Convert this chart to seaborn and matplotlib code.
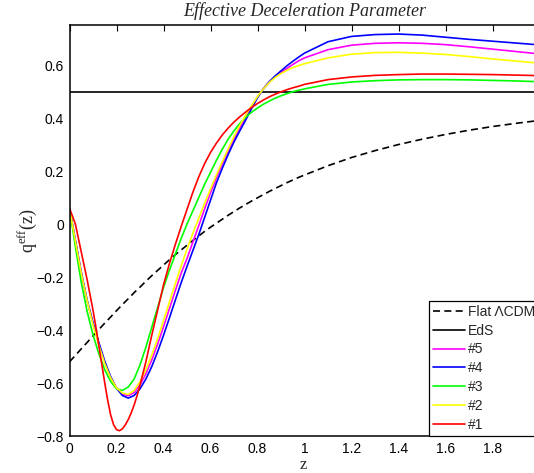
import numpy as np
import pandas as pd
import matplotlib
matplotlib.use("Agg")
import matplotlib.pyplot as plt
import seaborn as sns

# ---------------- data ----------------
z = [0, 0.025, 0.05, 0.075, 0.1, 0.125, 0.15, 0.175, 0.2, 0.225, 0.25, 0.275,
     0.3, 0.325, 0.35, 0.375, 0.4, 0.425, 0.45, 0.475, 0.5, 0.525, 0.55, 0.575,
     0.6, 0.625, 0.65, 0.675, 0.7, 0.725, 0.75, 0.775, 0.8, 0.825, 0.85, 0.875,
     0.9, 0.925, 0.95, 0.975, 1.0,
     1.1, 1.2, 1.3, 1.4, 1.5, 1.6, 1.7, 1.8, 1.9, 2.0]

q_lcdm = [-0.520, -0.496, -0.471, -0.447, -0.422, -0.398, -0.374, -0.351, -0.327,
          -0.304, -0.282, -0.259, -0.238, -0.216, -0.195, -0.175, -0.155, -0.135,
          -0.116, -0.098, -0.080, -0.062, -0.045, -0.028, -0.012, 0.003, 0.018,
          0.033, 0.047, 0.061, 0.074, 0.087, 0.099, 0.111, 0.123, 0.134, 0.145,
          0.156, 0.166, 0.176, 0.185,
          0.220, 0.251, 0.277, 0.300, 0.320, 0.338, 0.354, 0.368, 0.380, 0.391]

z_eds = [0, 2.0]
q_eds = [0.5, 0.5]

q_5 = [0.06, -0.062, -0.182, -0.288, -0.375, -0.452, -0.522, -0.578, -0.618, -0.641,
       -0.648, -0.636, -0.607, -0.565, -0.513, -0.453, -0.388, -0.320, -0.252, -0.186,
       -0.130, -0.068, -0.006, 0.057, 0.118, 0.174, 0.226, 0.275, 0.320, 0.363,
       0.403, 0.442, 0.479, 0.511, 0.536, 0.556, 0.572, 0.587, 0.602, 0.616, 0.627,
       0.658, 0.675, 0.682, 0.684, 0.682, 0.677, 0.669, 0.660, 0.651, 0.642]

q_4 = [0.06, -0.062, -0.182, -0.288, -0.372, -0.448, -0.518, -0.576, -0.620, -0.647,
       -0.657, -0.647, -0.622, -0.585, -0.538, -0.482, -0.420, -0.355, -0.288, -0.222,
       -0.160, -0.100, -0.040, 0.025, 0.090, 0.155, 0.210, 0.262, 0.310, 0.352,
       0.393, 0.436, 0.477, 0.510, 0.537, 0.559, 0.578, 0.597, 0.614, 0.630, 0.645,
       0.688, 0.708, 0.715, 0.717, 0.713, 0.705, 0.697, 0.690, 0.683, 0.676]

q_3 = [0.06, -0.085, -0.220, -0.330, -0.418, -0.490, -0.550, -0.594, -0.622, -0.628,
       -0.615, -0.585, -0.532, -0.465, -0.390, -0.315, -0.240, -0.175, -0.115, -0.055,
       0.000, 0.050, 0.100, 0.150, 0.195, 0.240, 0.282, 0.320, 0.352, 0.380,
       0.403, 0.422, 0.438, 0.452, 0.464, 0.475, 0.484, 0.492, 0.499, 0.505, 0.510,
       0.527, 0.536, 0.541, 0.544, 0.545, 0.545, 0.544, 0.542, 0.540, 0.537]

q_2 = [0.06, -0.065, -0.185, -0.290, -0.380, -0.458, -0.527, -0.581, -0.618, -0.638,
       -0.643, -0.628, -0.595, -0.550, -0.495, -0.432, -0.365, -0.295, -0.225, -0.158,
       -0.095, -0.035, 0.022, 0.078, 0.132, 0.185, 0.235, 0.283, 0.330, 0.373,
       0.412, 0.447, 0.481, 0.510, 0.534, 0.553, 0.568, 0.580, 0.590, 0.598, 0.605,
       0.627, 0.641, 0.647, 0.648, 0.645, 0.640, 0.632, 0.623, 0.615, 0.607]

# model #1 has a narrow minimum, so it is read on a finer z grid
z_1 = [0, 0.025, 0.05, 0.075, 0.1, 0.1125, 0.125, 0.1375, 0.15, 0.1625, 0.175,
       0.1875, 0.2, 0.2125, 0.225, 0.2375, 0.25, 0.2625, 0.275, 0.2875, 0.3,
       0.325, 0.35, 0.375, 0.4, 0.425, 0.45, 0.475, 0.5, 0.525, 0.55, 0.575,
       0.6, 0.625, 0.65, 0.675, 0.7, 0.725, 0.75, 0.775, 0.8, 0.825, 0.85, 0.875,
       0.9, 0.925, 0.95, 0.975, 1.0,
       1.1, 1.2, 1.3, 1.4, 1.5, 1.6, 1.7, 1.8, 1.9, 2.0]
q_1 = [0.06, 0.000, -0.105, -0.210, -0.325, -0.390, -0.460, -0.530, -0.600, -0.665,
       -0.720, -0.757, -0.776, -0.780, -0.773, -0.758, -0.738, -0.713, -0.683, -0.648,
       -0.608, -0.520, -0.420, -0.325, -0.230, -0.150, -0.078, -0.010, 0.055, 0.120,
       0.178, 0.228, 0.270, 0.305, 0.336, 0.362, 0.385, 0.405, 0.423, 0.440, 0.455,
       0.468, 0.480, 0.490, 0.499, 0.507, 0.514, 0.520, 0.527,
       0.545, 0.555, 0.561, 0.564, 0.566, 0.566, 0.565, 0.564, 0.562, 0.560]

labels = ["Flat \u039bCDM", "EdS", "#5", "#4", "#3", "#2", "#1"]
colors = ["black", "black", "#ff00ff", "#0000ff", "#00ff00", "#ffff00", "#ff0000"]

xticks = [0, 0.2, 0.4, 0.6, 0.8, 1.0, 1.2, 1.4, 1.6, 1.8]
xticklabels = ["0", "0.2", "0.4", "0.6", "0.8", "1", "1.2", "1.4", "1.6", "1.8"]
yticks = [-0.8, -0.6, -0.4, -0.2, 0, 0.2, 0.4, 0.6]
yticklabels = ["\u22120.8", "\u22120.6", "\u22120.4", "\u22120.2", "0", "0.2", "0.4", "0.6"]

# ---------------- style ----------------
sns.set_style("white")
plt.rcParams["font.family"] = ["Liberation Sans", "DejaVu Sans"]
plt.rcParams["mathtext.fontset"] = "custom"
plt.rcParams["mathtext.rm"] = "Liberation Serif"
plt.rcParams["mathtext.it"] = "Liberation Serif:italic"

fig = plt.figure(figsize=(5.34, 4.73), dpi=100)
W, H = 534, 473
left, right, top, bottom = 69.5, 539.5, 25.3, 436.0
ax = fig.add_axes([left / W, 1 - bottom / H, (right - left) / W, (bottom - top) / H])

lw = 1.2
series = [
    (z, q_lcdm, labels[0], colors[0], (0, (4.2, 2.6))),
    (z_eds, q_eds, labels[1], colors[1], "-"),
    (z, q_5, labels[2], colors[2], "-"),
    (z, q_4, labels[3], colors[3], "-"),
    (z, q_3, labels[4], colors[4], "-"),
    (z, q_2, labels[5], colors[5], "-"),
    (z_1, q_1, labels[6], colors[6], "-"),
]
for xs, ys, lab, col, ls in series:
    df = pd.DataFrame({"z": xs, "q": ys})
    sns.lineplot(data=df, x="z", y="q", ax=ax, color=col, lw=lw, linestyle=ls,
                 label=lab, sort=False, estimator=None)

ax.set_xlim(0, 2.0)
ax.set_ylim(-0.8, 0.75)
ax.set_xticks(xticks)
ax.set_xticklabels(xticklabels)
ax.set_yticks(yticks)
ax.set_yticklabels(yticklabels)
ax.tick_params(direction="in", length=4, width=0.8, top=True, right=True,
               labelsize=10, pad=4, colors="black")
for s in ax.spines.values():
    s.set_visible(True)
    s.set_linewidth(1.1)
    s.set_color("black")
ax.set_xlabel("")
ax.set_ylabel("")

leg = ax.legend(loc="lower right", bbox_to_anchor=(1.0, 0.0), borderaxespad=0,
                fontsize=10, frameon=True, fancybox=False, framealpha=1,
                edgecolor="black", handlelength=2.3, handletextpad=0.2,
                labelspacing=0.35, borderpad=0.3)
leg.get_frame().set_linewidth(0.9)

fig.text((left + right) / 2 / W, 1 - 15.5 / H, "Effective Deceleration Parameter",
         ha="center", va="baseline", fontsize=13, family="Liberation Serif",
         style="italic")
fig.text(303 / W, 1 - 469 / H, "z", ha="center", va="baseline", fontsize=12,
         family="Liberation Serif")
fig.text(27 / W, 1 - 231 / H, r"$\mathrm{q}^{\mathrm{eff}}\mathrm{(z)}$",
         ha="center", va="center", rotation=90, fontsize=13)

fig.savefig("out.png", dpi=100)
